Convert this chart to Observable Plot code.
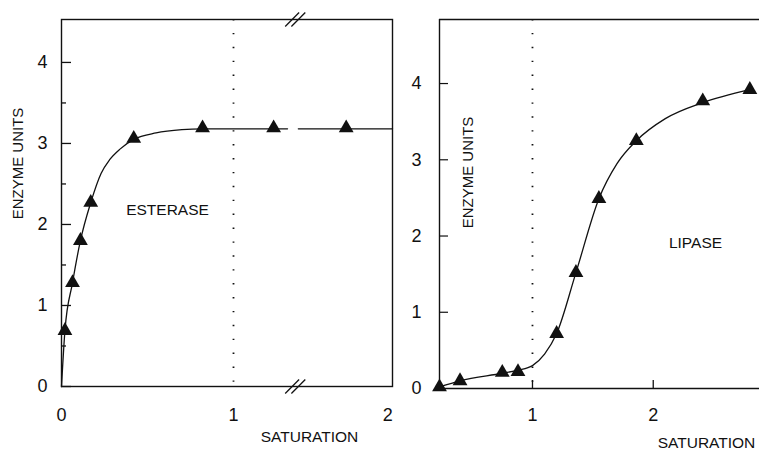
<!DOCTYPE html>
<html><head><meta charset="utf-8">
<script src="https://cdn.jsdelivr.net/npm/d3@7"></script>
<script src="https://cdn.jsdelivr.net/npm/@observablehq/plot@0.6"></script>
<style>
body{margin:0;background:#fff;}
#wrap{display:flex;width:759px;height:450px;overflow:hidden;background:#fff;}
#wrap svg{display:block;}
</style></head><body><div id="wrap"></div>
<script>
// ---------- Data: left panel (ESTERASE) ----------
const esteraseX = [0.02, 0.064, 0.11, 0.17, 0.42, 0.82, 1.26, 1.73];
const esteraseY = [0.69, 1.28, 1.80, 2.27, 3.06, 3.19, 3.19, 3.19];
const esteraseCurveX = [0, 0.02, 0.064, 0.11, 0.17, 0.23, 0.28, 0.34, 0.42, 0.55, 0.70, 0.82, 1.0, 1.2, 1.35, 1.42, 1.73, 2.03];
const esteraseCurveY = [0, 0.69, 1.28, 1.80, 2.27, 2.63, 2.80, 2.93, 3.05, 3.13, 3.17, 3.18, 3.18, 3.18, 3.18, 3.18, 3.18, 3.18];
const esteraseCurveSeg = ["a","a","a","a","a","a","a","a","a","a","a","a","a","a","a","b","b","b"];
const esteraseXTicks = [0, 1, 2];
const esteraseYTicks = [0, 1, 2, 3, 4];
const esteraseYMinor = [0.5, 1.5, 2.5, 3.5];
const esteraseXBreak = [1.38];
const leftXDomain = [0, 1, 2.03];
const leftYDomain = [0, 4.53];

// ---------- Data: right panel (LIPASE) ----------
const lipaseX = [0.23, 0.40, 0.75, 0.88, 1.20, 1.36, 1.55, 1.86, 2.41, 2.80];
const lipaseY = [0.02, 0.10, 0.21, 0.22, 0.72, 1.52, 2.49, 3.25, 3.77, 3.92];
const lipaseCurveX = [0.23, 0.40, 0.75, 0.88, 1.0, 1.1, 1.20, 1.36, 1.55, 1.70, 1.86, 2.10, 2.41, 2.80];
const lipaseCurveY = [0.02, 0.10, 0.20, 0.24, 0.30, 0.45, 0.72, 1.52, 2.49, 2.95, 3.25, 3.54, 3.75, 3.92];
const lipaseXTicks = [1, 2];
const lipaseYTicks = [0, 1, 2, 3, 4];
const rightXDomain = [0.23, 2.88];
const rightYDomain = [0, 4.84];

const yLabel = "ENZYME UNITS";
const xLabel = "SATURATION";
const leftName = "ESTERASE";
const rightName = "LIPASE";

const INK = "#111";
const FONT = "'Liberation Sans', Arial, Helvetica, sans-serif";
const H = 450;
const C = {textAnchor: "middle", lineAnchor: "middle", fill: INK};
const DOT = {stroke: INK, strokeWidth: 1.8, strokeDasharray: "1.4,12.5"};

// ---------- Left chart ----------
const lIdx = d3.range(esteraseX.length);
const lcIdx = d3.range(esteraseCurveX.length);
const left = Plot.plot({
  width: 400, height: H,
  marginLeft: 61, marginRight: 8, marginTop: 19, marginBottom: 64,
  x: {type: "linear", domain: leftXDomain, range: [61, 233, 392], axis: null},
  y: {domain: leftYDomain, axis: null},
  style: {fontFamily: FONT, background: "#fff", color: INK},
  marks: [
    Plot.ruleX([1], DOT),
    Plot.frame({stroke: INK, strokeWidth: 1.4}),
    Plot.tickY(esteraseYTicks, {y: d => d, insetRight: 321, stroke: INK, strokeWidth: 1.3}),
    Plot.tickY(esteraseYMinor, {y: d => d, insetRight: 326, stroke: INK, strokeWidth: 1.3}),
    // axis breaks
    ...[0, 1].flatMap(k => [0, 0.04].map(off => Plot.link(esteraseXBreak, {
      x1: d => d + off - 0.045, x2: d => d + off + 0.045,
      y1: () => leftYDomain[k] - 0.086, y2: () => leftYDomain[k] + 0.086,
      stroke: INK, strokeWidth: 1.3
    }))),
    Plot.line(lcIdx, {x: i => esteraseCurveX[i], y: i => esteraseCurveY[i], z: i => esteraseCurveSeg[i],
      curve: "monotone-x", stroke: INK, strokeWidth: 1.3}),
    Plot.dot(lIdx, {x: i => esteraseX[i], y: i => esteraseY[i], symbol: "triangle", r: 5.5, fill: INK, stroke: "none"}),
    Plot.text(esteraseYTicks, {y: d => d, frameAnchor: "left", dx: -14, textAnchor: "end", lineAnchor: "middle", text: d => String(d), fontSize: 18, fill: INK}),
    Plot.text(esteraseXTicks, {x: d => d, frameAnchor: "bottom", dy: 29, text: d => String(d), fontSize: 18, ...C}),
    Plot.text([yLabel], {frameAnchor: "top-left", dx: -43, dy: 144, rotate: -90, text: d => d, fontSize: 15, ...C}),
    Plot.text([xLabel], {frameAnchor: "bottom-left", dx: 248, dy: 51, text: d => d, fontSize: 15.5, ...C}),
    Plot.text([leftName], {frameAnchor: "top-left", dx: 106, dy: 191, text: d => d, fontSize: 15.5, ...C})
  ]
});

// ---------- Right chart ----------
const rIdx = d3.range(lipaseX.length);
const rcIdx = d3.range(lipaseCurveX.length);
const right = Plot.plot({
  width: 359, height: H,
  marginLeft: 39, marginRight: 0, marginTop: 19, marginBottom: 62,
  x: {domain: rightXDomain, axis: null},
  y: {domain: rightYDomain, axis: null},
  style: {fontFamily: FONT, background: "#fff", color: INK},
  marks: [
    Plot.ruleX([1], DOT),
    Plot.ruleY([rightYDomain[0]], {stroke: INK, strokeWidth: 1.4}),
    Plot.ruleY([rightYDomain[1]], {stroke: INK, strokeWidth: 1.6}),
    Plot.ruleX([rightXDomain[0]], {stroke: INK, strokeWidth: 1.4}),
    Plot.tickY(lipaseYTicks.slice(1), {y: d => d, insetRight: 311, stroke: INK, strokeWidth: 1.2}),
    Plot.tickX(lipaseXTicks, {x: d => d, insetTop: 361, stroke: INK, strokeWidth: 1.3}),
    Plot.line(rcIdx, {x: i => lipaseCurveX[i], y: i => lipaseCurveY[i], curve: "monotone-x", stroke: INK, strokeWidth: 1.3}),
    Plot.dot(rIdx, {x: i => lipaseX[i], y: i => lipaseY[i], symbol: "triangle", r: 5.5, fill: INK, stroke: "none"}),
    Plot.text(lipaseYTicks, {y: d => d, frameAnchor: "left", dx: -18, textAnchor: "end", lineAnchor: "middle", text: d => String(d), fontSize: 18, fill: INK}),
    Plot.text(lipaseXTicks, {x: d => d, frameAnchor: "bottom", dy: 27, text: d => String(d), fontSize: 18, ...C}),
    Plot.text([yLabel], {frameAnchor: "top-left", dx: 29, dy: 153, rotate: -90, text: d => d, fontSize: 15, ...C}),
    Plot.text([xLabel], {frameAnchor: "bottom-left", dx: 267, dy: 55, text: d => d, fontSize: 15.5, ...C}),
    Plot.text([rightName], {frameAnchor: "top-left", dx: 256, dy: 224, text: d => d, fontSize: 15.5, ...C})
  ]
});

document.getElementById("wrap").append(left, right);
</script>
</body></html>
